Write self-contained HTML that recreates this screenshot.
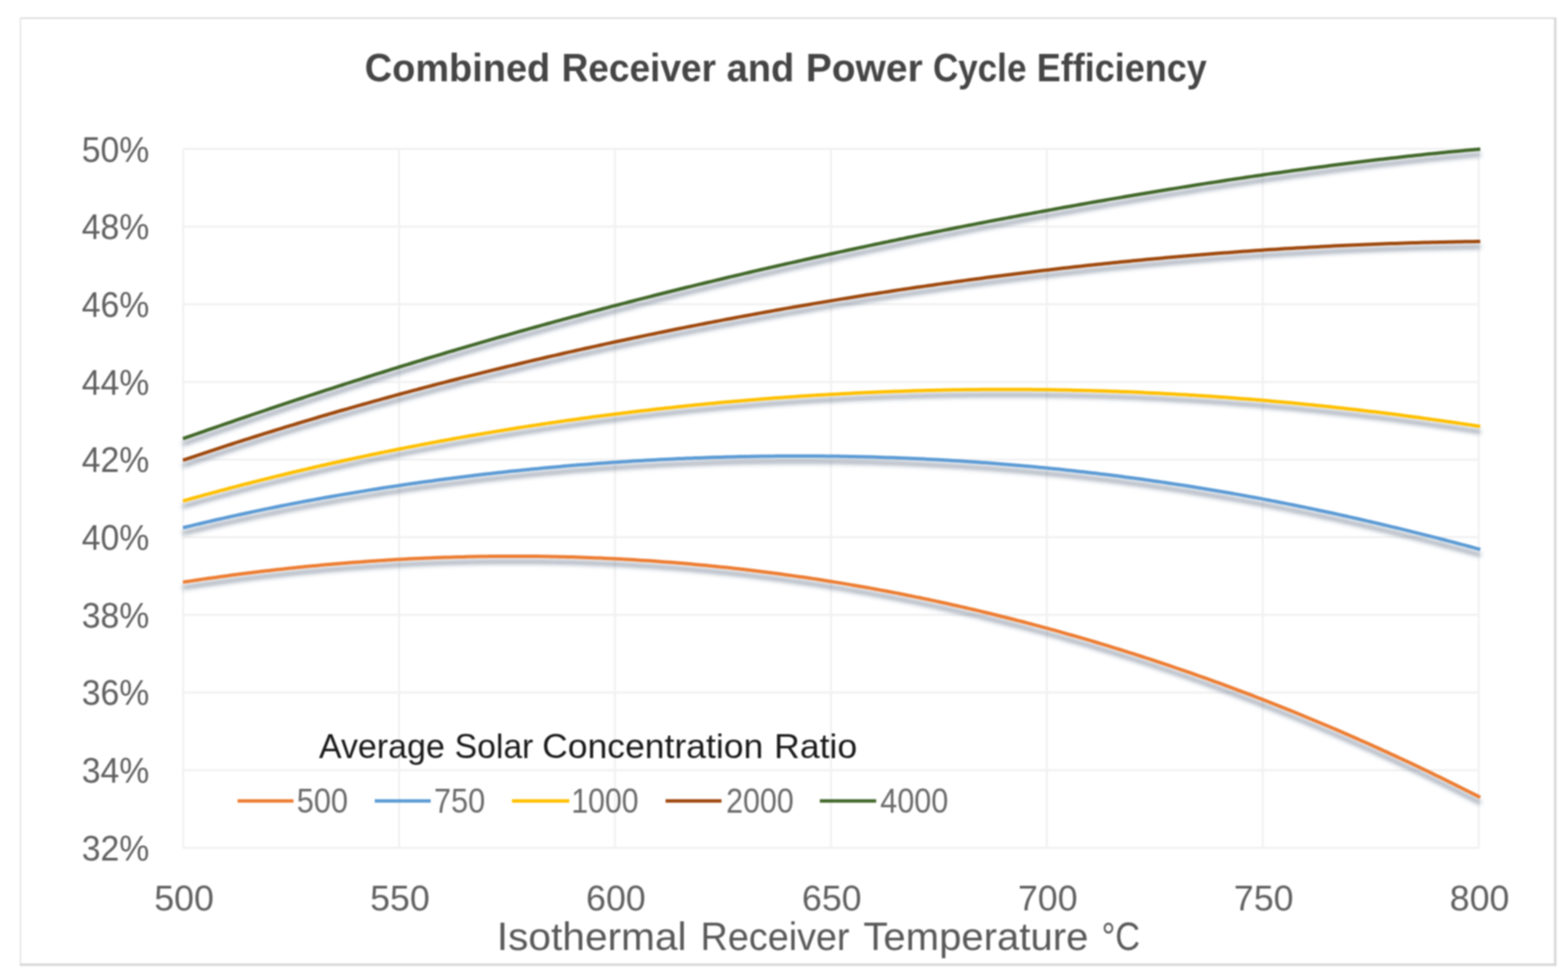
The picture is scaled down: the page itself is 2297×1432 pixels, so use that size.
<!DOCTYPE html><html><head><meta charset="utf-8"><title>Combined Receiver and Power Cycle Efficiency</title>
<style>html,body{margin:0;padding:0;background:#fff;}body{width:2297px;height:1432px;overflow:hidden;}svg{display:block;filter:blur(1px);}text{font-family:"Liberation Sans",Arial,sans-serif;}</style></head><body>
<svg width="2297" height="1432" viewBox="0 0 2297 1432">
<defs><filter id="sh" x="-5%" y="-20%" width="110%" height="160%"><feGaussianBlur in="SourceAlpha" stdDeviation="3.3"/><feOffset dx="0" dy="7.5" result="b"/><feFlood flood-color="rgb(40,60,90)" flood-opacity="0.52"/><feComposite in2="b" operator="in"/><feMerge><feMergeNode/><feMergeNode in="SourceGraphic"/></feMerge></filter></defs>
<rect x="0" y="0" width="2297" height="1432" fill="#fff"/>
<path d="M29 26.7H2280" stroke="#dadada" stroke-width="2.2"/>
<path d="M30 26V1414" stroke="#e6e6e6" stroke-width="2.2"/>
<path d="M2278.3 26V1414.5" stroke="#d6d6d6" stroke-width="3.5"/>
<path d="M29 1412.5H2280" stroke="#d6d6d6" stroke-width="3.5"/>
<path d="M268.3 218.10H2166.2 M268.3 331.80H2166.2 M268.3 445.50H2166.2 M268.3 559.20H2166.2 M268.3 672.90H2166.2 M268.3 786.60H2166.2 M268.3 900.30H2166.2 M268.3 1014.00H2166.2 M268.3 1127.70H2166.2 M268.3 1241.40H2166.2 M268.30 218.1V1241.4 M584.62 218.1V1241.4 M900.93 218.1V1241.4 M1217.25 218.1V1241.4 M1533.57 218.1V1241.4 M1849.88 218.1V1241.4 M2166.20 218.1V1241.4" stroke="#f1f1f1" stroke-width="3" fill="none"/>
<path d="M268.0 852.4 L274.0 851.5 L280.0 850.6 L286.0 849.7 L292.0 848.8 L298.0 847.9 L304.0 847.0 L310.0 846.2 L316.0 845.4 L322.0 844.5 L328.0 843.7 L334.0 842.9 L340.0 842.1 L346.0 841.3 L352.0 840.5 L358.0 839.8 L364.0 839.0 L370.0 838.3 L376.0 837.5 L382.0 836.8 L388.0 836.1 L394.0 835.4 L400.0 834.7 L406.0 834.0 L412.0 833.4 L418.0 832.7 L424.0 832.1 L430.0 831.4 L436.0 830.8 L442.0 830.2 L448.0 829.6 L454.0 829.0 L460.0 828.4 L466.0 827.9 L472.0 827.3 L478.0 826.8 L484.0 826.3 L490.0 825.7 L496.0 825.2 L502.0 824.7 L508.0 824.2 L514.0 823.8 L520.0 823.3 L526.0 822.9 L532.0 822.4 L538.0 822.0 L544.0 821.6 L550.0 821.2 L556.0 820.8 L562.0 820.4 L568.0 820.0 L574.0 819.7 L580.0 819.3 L586.0 819.0 L592.0 818.7 L598.0 818.3 L604.0 818.0 L610.0 817.8 L616.0 817.5 L622.0 817.2 L628.0 817.0 L634.0 816.7 L640.0 816.5 L646.0 816.3 L652.0 816.1 L658.0 815.9 L664.0 815.7 L670.0 815.5 L676.0 815.4 L682.0 815.2 L688.0 815.1 L694.0 815.0 L700.0 814.8 L706.0 814.7 L712.0 814.7 L718.0 814.6 L724.0 814.5 L730.0 814.5 L736.0 814.4 L742.0 814.4 L748.0 814.4 L754.0 814.4 L760.0 814.4 L766.0 814.4 L772.0 814.5 L778.0 814.5 L784.0 814.6 L790.0 814.6 L796.0 814.7 L802.0 814.8 L808.0 814.9 L814.0 815.0 L820.0 815.2 L826.0 815.3 L832.0 815.5 L838.0 815.6 L844.0 815.8 L850.0 816.0 L856.0 816.2 L862.0 816.4 L868.0 816.7 L874.0 816.9 L880.0 817.1 L886.0 817.4 L892.0 817.7 L898.0 818.0 L904.0 818.3 L910.0 818.6 L916.0 818.9 L922.0 819.3 L928.0 819.6 L934.0 820.0 L940.0 820.4 L946.0 820.7 L952.0 821.1 L958.0 821.6 L964.0 822.0 L970.0 822.4 L976.0 822.9 L982.0 823.3 L988.0 823.8 L994.0 824.3 L1000.0 824.8 L1006.0 825.3 L1012.0 825.8 L1018.0 826.4 L1024.0 826.9 L1030.0 827.5 L1036.0 828.1 L1042.0 828.7 L1048.0 829.3 L1054.0 829.9 L1060.0 830.5 L1066.0 831.1 L1072.0 831.8 L1078.0 832.4 L1084.0 833.1 L1090.0 833.8 L1096.0 834.5 L1102.0 835.2 L1108.0 836.0 L1114.0 836.7 L1120.0 837.4 L1126.0 838.2 L1132.0 839.0 L1138.0 839.8 L1144.0 840.6 L1150.0 841.4 L1156.0 842.2 L1162.0 843.1 L1168.0 843.9 L1174.0 844.8 L1180.0 845.6 L1186.0 846.5 L1192.0 847.4 L1198.0 848.3 L1204.0 849.3 L1210.0 850.2 L1216.0 851.2 L1222.0 852.1 L1228.0 853.1 L1234.0 854.1 L1240.0 855.1 L1246.0 856.1 L1252.0 857.2 L1258.0 858.2 L1264.0 859.2 L1270.0 860.3 L1276.0 861.4 L1282.0 862.5 L1288.0 863.6 L1294.0 864.7 L1300.0 865.8 L1306.0 867.0 L1312.0 868.1 L1318.0 869.3 L1324.0 870.5 L1330.0 871.7 L1336.0 872.9 L1342.0 874.1 L1348.0 875.3 L1354.0 876.6 L1360.0 877.8 L1366.0 879.1 L1372.0 880.4 L1378.0 881.7 L1384.0 883.0 L1390.0 884.3 L1396.0 885.7 L1402.0 887.0 L1408.0 888.4 L1414.0 889.7 L1420.0 891.1 L1426.0 892.5 L1432.0 893.9 L1438.0 895.4 L1444.0 896.8 L1450.0 898.3 L1456.0 899.7 L1462.0 901.2 L1468.0 902.7 L1474.0 904.2 L1480.0 905.7 L1486.0 907.2 L1492.0 908.8 L1498.0 910.3 L1504.0 911.9 L1510.0 913.5 L1516.0 915.1 L1522.0 916.7 L1528.0 918.3 L1534.0 919.9 L1540.0 921.6 L1546.0 923.2 L1552.0 924.9 L1558.0 926.6 L1564.0 928.3 L1570.0 930.0 L1576.0 931.7 L1582.0 933.4 L1588.0 935.2 L1594.0 936.9 L1600.0 938.7 L1606.0 940.5 L1612.0 942.3 L1618.0 944.1 L1624.0 945.9 L1630.0 947.8 L1636.0 949.6 L1642.0 951.5 L1648.0 953.4 L1654.0 955.3 L1660.0 957.2 L1666.0 959.1 L1672.0 961.0 L1678.0 963.0 L1684.0 964.9 L1690.0 966.9 L1696.0 968.9 L1702.0 970.9 L1708.0 972.9 L1714.0 974.9 L1720.0 977.0 L1726.0 979.0 L1732.0 981.1 L1738.0 983.1 L1744.0 985.2 L1750.0 987.3 L1756.0 989.5 L1762.0 991.6 L1768.0 993.7 L1774.0 995.9 L1780.0 998.1 L1786.0 1000.2 L1792.0 1002.4 L1798.0 1004.6 L1804.0 1006.9 L1810.0 1009.1 L1816.0 1011.4 L1822.0 1013.6 L1828.0 1015.9 L1834.0 1018.2 L1840.0 1020.5 L1846.0 1022.8 L1852.0 1025.1 L1858.0 1027.5 L1864.0 1029.8 L1870.0 1032.2 L1876.0 1034.6 L1882.0 1037.0 L1888.0 1039.4 L1894.0 1041.8 L1900.0 1044.3 L1906.0 1046.7 L1912.0 1049.2 L1918.0 1051.7 L1924.0 1054.2 L1930.0 1056.7 L1936.0 1059.2 L1942.0 1061.7 L1948.0 1064.3 L1954.0 1066.8 L1960.0 1069.4 L1966.0 1072.0 L1972.0 1074.6 L1978.0 1077.2 L1984.0 1079.9 L1990.0 1082.5 L1996.0 1085.2 L2002.0 1087.8 L2008.0 1090.5 L2014.0 1093.2 L2020.0 1095.9 L2026.0 1098.7 L2032.0 1101.4 L2038.0 1104.2 L2044.0 1106.9 L2050.0 1109.7 L2056.0 1112.5 L2062.0 1115.3 L2068.0 1118.1 L2074.0 1121.0 L2080.0 1123.8 L2086.0 1126.7 L2092.0 1129.6 L2098.0 1132.5 L2104.0 1135.4 L2110.0 1138.3 L2116.0 1141.3 L2122.0 1144.2 L2128.0 1147.2 L2134.0 1150.2 L2140.0 1153.2 L2146.0 1156.2 L2152.0 1159.2 L2158.0 1162.2 L2164.0 1165.3 L2168.5 1167.6" stroke="#ED7D31" stroke-width="5" fill="none" stroke-linejoin="round" filter="url(#sh)"/>
<path d="M268.0 772.8 L274.0 771.3 L280.0 769.9 L286.0 768.4 L292.0 767.0 L298.0 765.5 L304.0 764.1 L310.0 762.7 L316.0 761.3 L322.0 760.0 L328.0 758.6 L334.0 757.3 L340.0 755.9 L346.0 754.6 L352.0 753.3 L358.0 752.0 L364.0 750.7 L370.0 749.4 L376.0 748.1 L382.0 746.9 L388.0 745.6 L394.0 744.4 L400.0 743.2 L406.0 742.0 L412.0 740.8 L418.0 739.6 L424.0 738.4 L430.0 737.2 L436.0 736.1 L442.0 734.9 L448.0 733.8 L454.0 732.7 L460.0 731.6 L466.0 730.5 L472.0 729.4 L478.0 728.3 L484.0 727.2 L490.0 726.2 L496.0 725.1 L502.0 724.1 L508.0 723.1 L514.0 722.1 L520.0 721.1 L526.0 720.1 L532.0 719.1 L538.0 718.1 L544.0 717.1 L550.0 716.2 L556.0 715.2 L562.0 714.3 L568.0 713.4 L574.0 712.5 L580.0 711.6 L586.0 710.7 L592.0 709.8 L598.0 708.9 L604.0 708.0 L610.0 707.2 L616.0 706.3 L622.0 705.5 L628.0 704.7 L634.0 703.9 L640.0 703.1 L646.0 702.3 L652.0 701.5 L658.0 700.7 L664.0 699.9 L670.0 699.2 L676.0 698.4 L682.0 697.7 L688.0 696.9 L694.0 696.2 L700.0 695.5 L706.0 694.8 L712.0 694.1 L718.0 693.4 L724.0 692.7 L730.0 692.1 L736.0 691.4 L742.0 690.8 L748.0 690.1 L754.0 689.5 L760.0 688.9 L766.0 688.3 L772.0 687.7 L778.0 687.1 L784.0 686.5 L790.0 685.9 L796.0 685.3 L802.0 684.8 L808.0 684.2 L814.0 683.7 L820.0 683.2 L826.0 682.6 L832.0 682.1 L838.0 681.6 L844.0 681.1 L850.0 680.6 L856.0 680.2 L862.0 679.7 L868.0 679.2 L874.0 678.8 L880.0 678.3 L886.0 677.9 L892.0 677.5 L898.0 677.1 L904.0 676.7 L910.0 676.3 L916.0 675.9 L922.0 675.5 L928.0 675.1 L934.0 674.8 L940.0 674.4 L946.0 674.1 L952.0 673.7 L958.0 673.4 L964.0 673.1 L970.0 672.8 L976.0 672.5 L982.0 672.2 L988.0 671.9 L994.0 671.6 L1000.0 671.4 L1006.0 671.1 L1012.0 670.9 L1018.0 670.6 L1024.0 670.4 L1030.0 670.2 L1036.0 670.0 L1042.0 669.8 L1048.0 669.6 L1054.0 669.4 L1060.0 669.2 L1066.0 669.1 L1072.0 668.9 L1078.0 668.8 L1084.0 668.6 L1090.0 668.5 L1096.0 668.4 L1102.0 668.3 L1108.0 668.2 L1114.0 668.1 L1120.0 668.0 L1126.0 667.9 L1132.0 667.9 L1138.0 667.8 L1144.0 667.8 L1150.0 667.7 L1156.0 667.7 L1162.0 667.7 L1168.0 667.7 L1174.0 667.7 L1180.0 667.7 L1186.0 667.7 L1192.0 667.7 L1198.0 667.8 L1204.0 667.8 L1210.0 667.9 L1216.0 667.9 L1222.0 668.0 L1228.0 668.1 L1234.0 668.2 L1240.0 668.3 L1246.0 668.4 L1252.0 668.5 L1258.0 668.7 L1264.0 668.8 L1270.0 669.0 L1276.0 669.1 L1282.0 669.3 L1288.0 669.5 L1294.0 669.7 L1300.0 669.9 L1306.0 670.1 L1312.0 670.3 L1318.0 670.5 L1324.0 670.8 L1330.0 671.0 L1336.0 671.3 L1342.0 671.5 L1348.0 671.8 L1354.0 672.1 L1360.0 672.4 L1366.0 672.7 L1372.0 673.0 L1378.0 673.3 L1384.0 673.7 L1390.0 674.0 L1396.0 674.4 L1402.0 674.8 L1408.0 675.1 L1414.0 675.5 L1420.0 675.9 L1426.0 676.3 L1432.0 676.7 L1438.0 677.2 L1444.0 677.6 L1450.0 678.0 L1456.0 678.5 L1462.0 679.0 L1468.0 679.4 L1474.0 679.9 L1480.0 680.4 L1486.0 680.9 L1492.0 681.4 L1498.0 682.0 L1504.0 682.5 L1510.0 683.0 L1516.0 683.6 L1522.0 684.2 L1528.0 684.7 L1534.0 685.3 L1540.0 685.9 L1546.0 686.5 L1552.0 687.1 L1558.0 687.8 L1564.0 688.4 L1570.0 689.0 L1576.0 689.7 L1582.0 690.4 L1588.0 691.1 L1594.0 691.7 L1600.0 692.4 L1606.0 693.1 L1612.0 693.9 L1618.0 694.6 L1624.0 695.3 L1630.0 696.1 L1636.0 696.8 L1642.0 697.6 L1648.0 698.4 L1654.0 699.2 L1660.0 700.0 L1666.0 700.8 L1672.0 701.6 L1678.0 702.5 L1684.0 703.3 L1690.0 704.2 L1696.0 705.0 L1702.0 705.9 L1708.0 706.8 L1714.0 707.7 L1720.0 708.6 L1726.0 709.5 L1732.0 710.4 L1738.0 711.3 L1744.0 712.3 L1750.0 713.3 L1756.0 714.2 L1762.0 715.2 L1768.0 716.2 L1774.0 717.2 L1780.0 718.2 L1786.0 719.2 L1792.0 720.2 L1798.0 721.3 L1804.0 722.3 L1810.0 723.4 L1816.0 724.4 L1822.0 725.5 L1828.0 726.6 L1834.0 727.7 L1840.0 728.8 L1846.0 729.9 L1852.0 731.1 L1858.0 732.2 L1864.0 733.4 L1870.0 734.5 L1876.0 735.7 L1882.0 736.9 L1888.0 738.1 L1894.0 739.3 L1900.0 740.5 L1906.0 741.7 L1912.0 742.9 L1918.0 744.2 L1924.0 745.4 L1930.0 746.7 L1936.0 748.0 L1942.0 749.2 L1948.0 750.5 L1954.0 751.8 L1960.0 753.1 L1966.0 754.5 L1972.0 755.8 L1978.0 757.1 L1984.0 758.5 L1990.0 759.8 L1996.0 761.2 L2002.0 762.6 L2008.0 764.0 L2014.0 765.4 L2020.0 766.8 L2026.0 768.2 L2032.0 769.6 L2038.0 771.1 L2044.0 772.5 L2050.0 773.9 L2056.0 775.4 L2062.0 776.9 L2068.0 778.4 L2074.0 779.9 L2080.0 781.4 L2086.0 782.9 L2092.0 784.4 L2098.0 785.9 L2104.0 787.4 L2110.0 789.0 L2116.0 790.5 L2122.0 792.1 L2128.0 793.7 L2134.0 795.2 L2140.0 796.8 L2146.0 798.4 L2152.0 800.0 L2158.0 801.6 L2164.0 803.3 L2168.5 804.5" stroke="#5B9BD5" stroke-width="5" fill="none" stroke-linejoin="round" filter="url(#sh)"/>
<path d="M268.0 733.6 L274.0 731.9 L280.0 730.2 L286.0 728.5 L292.0 726.9 L298.0 725.2 L304.0 723.6 L310.0 721.9 L316.0 720.3 L322.0 718.7 L328.0 717.1 L334.0 715.5 L340.0 713.9 L346.0 712.3 L352.0 710.8 L358.0 709.2 L364.0 707.7 L370.0 706.1 L376.0 704.6 L382.0 703.1 L388.0 701.6 L394.0 700.1 L400.0 698.6 L406.0 697.1 L412.0 695.7 L418.0 694.2 L424.0 692.8 L430.0 691.3 L436.0 689.9 L442.0 688.5 L448.0 687.1 L454.0 685.7 L460.0 684.3 L466.0 682.9 L472.0 681.5 L478.0 680.2 L484.0 678.8 L490.0 677.5 L496.0 676.2 L502.0 674.8 L508.0 673.5 L514.0 672.2 L520.0 670.9 L526.0 669.6 L532.0 668.4 L538.0 667.1 L544.0 665.8 L550.0 664.6 L556.0 663.3 L562.0 662.1 L568.0 660.9 L574.0 659.7 L580.0 658.5 L586.0 657.3 L592.0 656.1 L598.0 654.9 L604.0 653.7 L610.0 652.6 L616.0 651.4 L622.0 650.3 L628.0 649.1 L634.0 648.0 L640.0 646.9 L646.0 645.8 L652.0 644.7 L658.0 643.6 L664.0 642.5 L670.0 641.4 L676.0 640.4 L682.0 639.3 L688.0 638.3 L694.0 637.2 L700.0 636.2 L706.0 635.2 L712.0 634.1 L718.0 633.1 L724.0 632.1 L730.0 631.1 L736.0 630.2 L742.0 629.2 L748.0 628.2 L754.0 627.3 L760.0 626.3 L766.0 625.4 L772.0 624.4 L778.0 623.5 L784.0 622.6 L790.0 621.7 L796.0 620.8 L802.0 619.9 L808.0 619.0 L814.0 618.1 L820.0 617.3 L826.0 616.4 L832.0 615.5 L838.0 614.7 L844.0 613.9 L850.0 613.0 L856.0 612.2 L862.0 611.4 L868.0 610.6 L874.0 609.8 L880.0 609.0 L886.0 608.2 L892.0 607.5 L898.0 606.7 L904.0 606.0 L910.0 605.2 L916.0 604.5 L922.0 603.7 L928.0 603.0 L934.0 602.3 L940.0 601.6 L946.0 600.9 L952.0 600.2 L958.0 599.5 L964.0 598.8 L970.0 598.2 L976.0 597.5 L982.0 596.9 L988.0 596.2 L994.0 595.6 L1000.0 594.9 L1006.0 594.3 L1012.0 593.7 L1018.0 593.1 L1024.0 592.5 L1030.0 591.9 L1036.0 591.3 L1042.0 590.8 L1048.0 590.2 L1054.0 589.6 L1060.0 589.1 L1066.0 588.5 L1072.0 588.0 L1078.0 587.5 L1084.0 587.0 L1090.0 586.5 L1096.0 585.9 L1102.0 585.5 L1108.0 585.0 L1114.0 584.5 L1120.0 584.0 L1126.0 583.6 L1132.0 583.1 L1138.0 582.6 L1144.0 582.2 L1150.0 581.8 L1156.0 581.3 L1162.0 580.9 L1168.0 580.5 L1174.0 580.1 L1180.0 579.7 L1186.0 579.3 L1192.0 579.0 L1198.0 578.6 L1204.0 578.2 L1210.0 577.9 L1216.0 577.5 L1222.0 577.2 L1228.0 576.9 L1234.0 576.5 L1240.0 576.2 L1246.0 575.9 L1252.0 575.6 L1258.0 575.3 L1264.0 575.1 L1270.0 574.8 L1276.0 574.5 L1282.0 574.3 L1288.0 574.0 L1294.0 573.8 L1300.0 573.5 L1306.0 573.3 L1312.0 573.1 L1318.0 572.9 L1324.0 572.7 L1330.0 572.5 L1336.0 572.3 L1342.0 572.1 L1348.0 571.9 L1354.0 571.8 L1360.0 571.6 L1366.0 571.5 L1372.0 571.3 L1378.0 571.2 L1384.0 571.1 L1390.0 571.0 L1396.0 570.8 L1402.0 570.7 L1408.0 570.7 L1414.0 570.6 L1420.0 570.5 L1426.0 570.4 L1432.0 570.4 L1438.0 570.3 L1444.0 570.3 L1450.0 570.2 L1456.0 570.2 L1462.0 570.2 L1468.0 570.2 L1474.0 570.2 L1480.0 570.2 L1486.0 570.2 L1492.0 570.2 L1498.0 570.2 L1504.0 570.3 L1510.0 570.3 L1516.0 570.4 L1522.0 570.4 L1528.0 570.5 L1534.0 570.6 L1540.0 570.7 L1546.0 570.8 L1552.0 570.9 L1558.0 571.0 L1564.0 571.1 L1570.0 571.2 L1576.0 571.4 L1582.0 571.5 L1588.0 571.7 L1594.0 571.8 L1600.0 572.0 L1606.0 572.2 L1612.0 572.3 L1618.0 572.5 L1624.0 572.7 L1630.0 572.9 L1636.0 573.1 L1642.0 573.4 L1648.0 573.6 L1654.0 573.8 L1660.0 574.1 L1666.0 574.3 L1672.0 574.6 L1678.0 574.9 L1684.0 575.2 L1690.0 575.5 L1696.0 575.7 L1702.0 576.1 L1708.0 576.4 L1714.0 576.7 L1720.0 577.0 L1726.0 577.4 L1732.0 577.7 L1738.0 578.1 L1744.0 578.4 L1750.0 578.8 L1756.0 579.2 L1762.0 579.5 L1768.0 579.9 L1774.0 580.3 L1780.0 580.8 L1786.0 581.2 L1792.0 581.6 L1798.0 582.0 L1804.0 582.5 L1810.0 582.9 L1816.0 583.4 L1822.0 583.9 L1828.0 584.3 L1834.0 584.8 L1840.0 585.3 L1846.0 585.8 L1852.0 586.3 L1858.0 586.8 L1864.0 587.4 L1870.0 587.9 L1876.0 588.4 L1882.0 589.0 L1888.0 589.5 L1894.0 590.1 L1900.0 590.7 L1906.0 591.3 L1912.0 591.9 L1918.0 592.4 L1924.0 593.1 L1930.0 593.7 L1936.0 594.3 L1942.0 594.9 L1948.0 595.6 L1954.0 596.2 L1960.0 596.9 L1966.0 597.5 L1972.0 598.2 L1978.0 598.9 L1984.0 599.5 L1990.0 600.2 L1996.0 600.9 L2002.0 601.7 L2008.0 602.4 L2014.0 603.1 L2020.0 603.8 L2026.0 604.6 L2032.0 605.3 L2038.0 606.1 L2044.0 606.8 L2050.0 607.6 L2056.0 608.4 L2062.0 609.2 L2068.0 610.0 L2074.0 610.8 L2080.0 611.6 L2086.0 612.4 L2092.0 613.2 L2098.0 614.1 L2104.0 614.9 L2110.0 615.7 L2116.0 616.6 L2122.0 617.5 L2128.0 618.3 L2134.0 619.2 L2140.0 620.1 L2146.0 621.0 L2152.0 621.9 L2158.0 622.8 L2164.0 623.7 L2168.5 624.4" stroke="#FFC000" stroke-width="5" fill="none" stroke-linejoin="round" filter="url(#sh)"/>
<path d="M268.0 673.9 L274.0 671.9 L280.0 669.8 L286.0 667.8 L292.0 665.8 L298.0 663.8 L304.0 661.8 L310.0 659.8 L316.0 657.8 L322.0 655.8 L328.0 653.9 L334.0 651.9 L340.0 650.0 L346.0 648.0 L352.0 646.1 L358.0 644.2 L364.0 642.3 L370.0 640.4 L376.0 638.5 L382.0 636.6 L388.0 634.7 L394.0 632.8 L400.0 631.0 L406.0 629.1 L412.0 627.3 L418.0 625.4 L424.0 623.6 L430.0 621.8 L436.0 620.0 L442.0 618.2 L448.0 616.4 L454.0 614.6 L460.0 612.8 L466.0 611.0 L472.0 609.2 L478.0 607.5 L484.0 605.7 L490.0 604.0 L496.0 602.2 L502.0 600.5 L508.0 598.8 L514.0 597.1 L520.0 595.4 L526.0 593.7 L532.0 592.0 L538.0 590.3 L544.0 588.6 L550.0 586.9 L556.0 585.3 L562.0 583.6 L568.0 582.0 L574.0 580.3 L580.0 578.7 L586.0 577.0 L592.0 575.4 L598.0 573.8 L604.0 572.2 L610.0 570.6 L616.0 569.0 L622.0 567.4 L628.0 565.8 L634.0 564.3 L640.0 562.7 L646.0 561.1 L652.0 559.6 L658.0 558.0 L664.0 556.5 L670.0 555.0 L676.0 553.4 L682.0 551.9 L688.0 550.4 L694.0 548.9 L700.0 547.4 L706.0 545.9 L712.0 544.4 L718.0 542.9 L724.0 541.4 L730.0 540.0 L736.0 538.5 L742.0 537.0 L748.0 535.6 L754.0 534.2 L760.0 532.7 L766.0 531.3 L772.0 529.9 L778.0 528.4 L784.0 527.0 L790.0 525.6 L796.0 524.2 L802.0 522.8 L808.0 521.4 L814.0 520.1 L820.0 518.7 L826.0 517.3 L832.0 515.9 L838.0 514.6 L844.0 513.2 L850.0 511.9 L856.0 510.5 L862.0 509.2 L868.0 507.9 L874.0 506.6 L880.0 505.2 L886.0 503.9 L892.0 502.6 L898.0 501.3 L904.0 500.0 L910.0 498.7 L916.0 497.5 L922.0 496.2 L928.0 494.9 L934.0 493.7 L940.0 492.4 L946.0 491.1 L952.0 489.9 L958.0 488.7 L964.0 487.4 L970.0 486.2 L976.0 485.0 L982.0 483.7 L988.0 482.5 L994.0 481.3 L1000.0 480.1 L1006.0 478.9 L1012.0 477.7 L1018.0 476.6 L1024.0 475.4 L1030.0 474.2 L1036.0 473.0 L1042.0 471.9 L1048.0 470.7 L1054.0 469.6 L1060.0 468.4 L1066.0 467.3 L1072.0 466.2 L1078.0 465.0 L1084.0 463.9 L1090.0 462.8 L1096.0 461.7 L1102.0 460.6 L1108.0 459.5 L1114.0 458.4 L1120.0 457.3 L1126.0 456.2 L1132.0 455.1 L1138.0 454.0 L1144.0 453.0 L1150.0 451.9 L1156.0 450.9 L1162.0 449.8 L1168.0 448.8 L1174.0 447.7 L1180.0 446.7 L1186.0 445.7 L1192.0 444.6 L1198.0 443.6 L1204.0 442.6 L1210.0 441.6 L1216.0 440.6 L1222.0 439.6 L1228.0 438.6 L1234.0 437.6 L1240.0 436.7 L1246.0 435.7 L1252.0 434.7 L1258.0 433.7 L1264.0 432.8 L1270.0 431.8 L1276.0 430.9 L1282.0 430.0 L1288.0 429.0 L1294.0 428.1 L1300.0 427.2 L1306.0 426.2 L1312.0 425.3 L1318.0 424.4 L1324.0 423.5 L1330.0 422.6 L1336.0 421.7 L1342.0 420.8 L1348.0 420.0 L1354.0 419.1 L1360.0 418.2 L1366.0 417.4 L1372.0 416.5 L1378.0 415.6 L1384.0 414.8 L1390.0 414.0 L1396.0 413.1 L1402.0 412.3 L1408.0 411.5 L1414.0 410.6 L1420.0 409.8 L1426.0 409.0 L1432.0 408.2 L1438.0 407.4 L1444.0 406.6 L1450.0 405.8 L1456.0 405.1 L1462.0 404.3 L1468.0 403.5 L1474.0 402.7 L1480.0 402.0 L1486.0 401.2 L1492.0 400.5 L1498.0 399.7 L1504.0 399.0 L1510.0 398.3 L1516.0 397.5 L1522.0 396.8 L1528.0 396.1 L1534.0 395.4 L1540.0 394.7 L1546.0 394.0 L1552.0 393.3 L1558.0 392.6 L1564.0 391.9 L1570.0 391.3 L1576.0 390.6 L1582.0 389.9 L1588.0 389.3 L1594.0 388.6 L1600.0 388.0 L1606.0 387.3 L1612.0 386.7 L1618.0 386.1 L1624.0 385.4 L1630.0 384.8 L1636.0 384.2 L1642.0 383.6 L1648.0 383.0 L1654.0 382.4 L1660.0 381.8 L1666.0 381.2 L1672.0 380.7 L1678.0 380.1 L1684.0 379.5 L1690.0 379.0 L1696.0 378.4 L1702.0 377.9 L1708.0 377.3 L1714.0 376.8 L1720.0 376.2 L1726.0 375.7 L1732.0 375.2 L1738.0 374.7 L1744.0 374.2 L1750.0 373.7 L1756.0 373.2 L1762.0 372.7 L1768.0 372.2 L1774.0 371.7 L1780.0 371.3 L1786.0 370.8 L1792.0 370.3 L1798.0 369.9 L1804.0 369.4 L1810.0 369.0 L1816.0 368.5 L1822.0 368.1 L1828.0 367.7 L1834.0 367.3 L1840.0 366.8 L1846.0 366.4 L1852.0 366.0 L1858.0 365.6 L1864.0 365.3 L1870.0 364.9 L1876.0 364.5 L1882.0 364.1 L1888.0 363.8 L1894.0 363.4 L1900.0 363.0 L1906.0 362.7 L1912.0 362.4 L1918.0 362.0 L1924.0 361.7 L1930.0 361.4 L1936.0 361.0 L1942.0 360.7 L1948.0 360.4 L1954.0 360.1 L1960.0 359.8 L1966.0 359.6 L1972.0 359.3 L1978.0 359.0 L1984.0 358.7 L1990.0 358.5 L1996.0 358.2 L2002.0 358.0 L2008.0 357.7 L2014.0 357.5 L2020.0 357.3 L2026.0 357.0 L2032.0 356.8 L2038.0 356.6 L2044.0 356.4 L2050.0 356.2 L2056.0 356.0 L2062.0 355.8 L2068.0 355.6 L2074.0 355.5 L2080.0 355.3 L2086.0 355.1 L2092.0 355.0 L2098.0 354.8 L2104.0 354.7 L2110.0 354.5 L2116.0 354.4 L2122.0 354.3 L2128.0 354.2 L2134.0 354.0 L2140.0 353.9 L2146.0 353.8 L2152.0 353.7 L2158.0 353.7 L2164.0 353.6 L2168.5 353.5" stroke="#9E480E" stroke-width="5" fill="none" stroke-linejoin="round" filter="url(#sh)"/>
<path d="M268.0 642.3 L274.0 640.2 L280.0 638.1 L286.0 636.0 L292.0 633.9 L298.0 631.8 L304.0 629.7 L310.0 627.6 L316.0 625.6 L322.0 623.5 L328.0 621.4 L334.0 619.4 L340.0 617.3 L346.0 615.2 L352.0 613.2 L358.0 611.1 L364.0 609.1 L370.0 607.0 L376.0 605.0 L382.0 603.0 L388.0 601.0 L394.0 598.9 L400.0 596.9 L406.0 594.9 L412.0 592.9 L418.0 590.9 L424.0 588.9 L430.0 586.9 L436.0 584.9 L442.0 583.0 L448.0 581.0 L454.0 579.0 L460.0 577.1 L466.0 575.1 L472.0 573.1 L478.0 571.2 L484.0 569.3 L490.0 567.3 L496.0 565.4 L502.0 563.5 L508.0 561.5 L514.0 559.6 L520.0 557.7 L526.0 555.8 L532.0 553.9 L538.0 552.0 L544.0 550.1 L550.0 548.2 L556.0 546.3 L562.0 544.5 L568.0 542.6 L574.0 540.7 L580.0 538.9 L586.0 537.0 L592.0 535.2 L598.0 533.3 L604.0 531.5 L610.0 529.7 L616.0 527.9 L622.0 526.0 L628.0 524.2 L634.0 522.4 L640.0 520.6 L646.0 518.8 L652.0 517.0 L658.0 515.2 L664.0 513.5 L670.0 511.7 L676.0 509.9 L682.0 508.1 L688.0 506.4 L694.0 504.6 L700.0 502.9 L706.0 501.1 L712.0 499.4 L718.0 497.7 L724.0 495.9 L730.0 494.2 L736.0 492.5 L742.0 490.8 L748.0 489.1 L754.0 487.4 L760.0 485.7 L766.0 484.0 L772.0 482.3 L778.0 480.7 L784.0 479.0 L790.0 477.3 L796.0 475.7 L802.0 474.0 L808.0 472.4 L814.0 470.7 L820.0 469.1 L826.0 467.4 L832.0 465.8 L838.0 464.2 L844.0 462.6 L850.0 461.0 L856.0 459.3 L862.0 457.7 L868.0 456.1 L874.0 454.6 L880.0 453.0 L886.0 451.4 L892.0 449.8 L898.0 448.2 L904.0 446.7 L910.0 445.1 L916.0 443.6 L922.0 442.0 L928.0 440.5 L934.0 438.9 L940.0 437.4 L946.0 435.9 L952.0 434.3 L958.0 432.8 L964.0 431.3 L970.0 429.8 L976.0 428.3 L982.0 426.8 L988.0 425.3 L994.0 423.8 L1000.0 422.3 L1006.0 420.8 L1012.0 419.4 L1018.0 417.9 L1024.0 416.4 L1030.0 415.0 L1036.0 413.5 L1042.0 412.1 L1048.0 410.6 L1054.0 409.2 L1060.0 407.7 L1066.0 406.3 L1072.0 404.9 L1078.0 403.5 L1084.0 402.1 L1090.0 400.6 L1096.0 399.2 L1102.0 397.8 L1108.0 396.4 L1114.0 395.0 L1120.0 393.6 L1126.0 392.3 L1132.0 390.9 L1138.0 389.5 L1144.0 388.1 L1150.0 386.8 L1156.0 385.4 L1162.0 384.1 L1168.0 382.7 L1174.0 381.4 L1180.0 380.0 L1186.0 378.7 L1192.0 377.3 L1198.0 376.0 L1204.0 374.7 L1210.0 373.4 L1216.0 372.0 L1222.0 370.7 L1228.0 369.4 L1234.0 368.1 L1240.0 366.8 L1246.0 365.5 L1252.0 364.2 L1258.0 362.9 L1264.0 361.7 L1270.0 360.4 L1276.0 359.1 L1282.0 357.8 L1288.0 356.6 L1294.0 355.3 L1300.0 354.1 L1306.0 352.8 L1312.0 351.6 L1318.0 350.3 L1324.0 349.1 L1330.0 347.8 L1336.0 346.6 L1342.0 345.4 L1348.0 344.1 L1354.0 342.9 L1360.0 341.7 L1366.0 340.5 L1372.0 339.3 L1378.0 338.1 L1384.0 336.9 L1390.0 335.7 L1396.0 334.5 L1402.0 333.3 L1408.0 332.1 L1414.0 330.9 L1420.0 329.8 L1426.0 328.6 L1432.0 327.4 L1438.0 326.3 L1444.0 325.1 L1450.0 323.9 L1456.0 322.8 L1462.0 321.6 L1468.0 320.5 L1474.0 319.4 L1480.0 318.2 L1486.0 317.1 L1492.0 316.0 L1498.0 314.8 L1504.0 313.7 L1510.0 312.6 L1516.0 311.5 L1522.0 310.4 L1528.0 309.3 L1534.0 308.2 L1540.0 307.1 L1546.0 306.0 L1552.0 304.9 L1558.0 303.8 L1564.0 302.7 L1570.0 301.7 L1576.0 300.6 L1582.0 299.5 L1588.0 298.5 L1594.0 297.4 L1600.0 296.3 L1606.0 295.3 L1612.0 294.2 L1618.0 293.2 L1624.0 292.1 L1630.0 291.1 L1636.0 290.1 L1642.0 289.1 L1648.0 288.0 L1654.0 287.0 L1660.0 286.0 L1666.0 285.0 L1672.0 284.0 L1678.0 283.0 L1684.0 282.0 L1690.0 281.0 L1696.0 280.0 L1702.0 279.0 L1708.0 278.0 L1714.0 277.0 L1720.0 276.1 L1726.0 275.1 L1732.0 274.1 L1738.0 273.2 L1744.0 272.2 L1750.0 271.3 L1756.0 270.3 L1762.0 269.4 L1768.0 268.4 L1774.0 267.5 L1780.0 266.6 L1786.0 265.7 L1792.0 264.7 L1798.0 263.8 L1804.0 262.9 L1810.0 262.0 L1816.0 261.1 L1822.0 260.2 L1828.0 259.3 L1834.0 258.4 L1840.0 257.5 L1846.0 256.7 L1852.0 255.8 L1858.0 254.9 L1864.0 254.1 L1870.0 253.2 L1876.0 252.4 L1882.0 251.5 L1888.0 250.7 L1894.0 249.8 L1900.0 249.0 L1906.0 248.2 L1912.0 247.4 L1918.0 246.6 L1924.0 245.8 L1930.0 245.0 L1936.0 244.2 L1942.0 243.4 L1948.0 242.6 L1954.0 241.8 L1960.0 241.0 L1966.0 240.3 L1972.0 239.5 L1978.0 238.7 L1984.0 238.0 L1990.0 237.3 L1996.0 236.5 L2002.0 235.8 L2008.0 235.1 L2014.0 234.3 L2020.0 233.6 L2026.0 232.9 L2032.0 232.2 L2038.0 231.5 L2044.0 230.9 L2050.0 230.2 L2056.0 229.5 L2062.0 228.8 L2068.0 228.2 L2074.0 227.5 L2080.0 226.9 L2086.0 226.3 L2092.0 225.6 L2098.0 225.0 L2104.0 224.4 L2110.0 223.8 L2116.0 223.2 L2122.0 222.6 L2128.0 222.0 L2134.0 221.5 L2140.0 220.9 L2146.0 220.3 L2152.0 219.8 L2158.0 219.2 L2164.0 218.7 L2168.5 218.3" stroke="#43682B" stroke-width="5" fill="none" stroke-linejoin="round" filter="url(#sh)"/>
<text x="534.3" y="119" font-size="57" font-weight="bold" fill="#454545" textLength="271.7" lengthAdjust="spacingAndGlyphs">Combined</text>
<text x="822.7" y="119" font-size="57" font-weight="bold" fill="#454545" textLength="226.2" lengthAdjust="spacingAndGlyphs">Receiver</text>
<text x="1064.5" y="119" font-size="57" font-weight="bold" fill="#454545" textLength="99.0" lengthAdjust="spacingAndGlyphs">and</text>
<text x="1180.5" y="119" font-size="57" font-weight="bold" fill="#454545" textLength="171.1" lengthAdjust="spacingAndGlyphs">Power</text>
<text x="1366.7" y="119" font-size="57" font-weight="bold" fill="#454545" textLength="137.0" lengthAdjust="spacingAndGlyphs">Cycle</text>
<text x="1518.8" y="119" font-size="57" font-weight="bold" fill="#454545" textLength="249.0" lengthAdjust="spacingAndGlyphs">Efficiency</text>
<text x="218.8" y="236.5" font-size="51" fill="#606060" text-anchor="end" textLength="99" lengthAdjust="spacingAndGlyphs">50%</text>
<text x="218.8" y="350.2" font-size="51" fill="#606060" text-anchor="end" textLength="99" lengthAdjust="spacingAndGlyphs">48%</text>
<text x="218.8" y="463.9" font-size="51" fill="#606060" text-anchor="end" textLength="99" lengthAdjust="spacingAndGlyphs">46%</text>
<text x="218.8" y="577.6" font-size="51" fill="#606060" text-anchor="end" textLength="99" lengthAdjust="spacingAndGlyphs">44%</text>
<text x="218.8" y="691.3" font-size="51" fill="#606060" text-anchor="end" textLength="99" lengthAdjust="spacingAndGlyphs">42%</text>
<text x="218.8" y="805.0" font-size="51" fill="#606060" text-anchor="end" textLength="99" lengthAdjust="spacingAndGlyphs">40%</text>
<text x="218.8" y="918.7" font-size="51" fill="#606060" text-anchor="end" textLength="99" lengthAdjust="spacingAndGlyphs">38%</text>
<text x="218.8" y="1032.4" font-size="51" fill="#606060" text-anchor="end" textLength="99" lengthAdjust="spacingAndGlyphs">36%</text>
<text x="218.8" y="1146.1" font-size="51" fill="#606060" text-anchor="end" textLength="99" lengthAdjust="spacingAndGlyphs">34%</text>
<text x="218.8" y="1259.8" font-size="51" fill="#606060" text-anchor="end" textLength="99" lengthAdjust="spacingAndGlyphs">32%</text>
<text x="269.6" y="1332.8" font-size="52" fill="#606060" text-anchor="middle" textLength="87.3" lengthAdjust="spacingAndGlyphs">500</text>
<text x="585.9" y="1332.8" font-size="52" fill="#606060" text-anchor="middle" textLength="87.3" lengthAdjust="spacingAndGlyphs">550</text>
<text x="902.2" y="1332.8" font-size="52" fill="#606060" text-anchor="middle" textLength="87.3" lengthAdjust="spacingAndGlyphs">600</text>
<text x="1218.5" y="1332.8" font-size="52" fill="#606060" text-anchor="middle" textLength="87.3" lengthAdjust="spacingAndGlyphs">650</text>
<text x="1534.9" y="1332.8" font-size="52" fill="#606060" text-anchor="middle" textLength="87.3" lengthAdjust="spacingAndGlyphs">700</text>
<text x="1851.2" y="1332.8" font-size="52" fill="#606060" text-anchor="middle" textLength="87.3" lengthAdjust="spacingAndGlyphs">750</text>
<text x="2167.5" y="1332.8" font-size="52" fill="#606060" text-anchor="middle" textLength="87.3" lengthAdjust="spacingAndGlyphs">800</text>
<text x="727.8" y="1390.5" font-size="57" fill="#595959" textLength="278.0" lengthAdjust="spacingAndGlyphs">Isothermal</text>
<text x="1026.3" y="1390.5" font-size="57" fill="#595959" textLength="218.2" lengthAdjust="spacingAndGlyphs">Receiver</text>
<text x="1264.7" y="1390.5" font-size="57" fill="#595959" textLength="329.7" lengthAdjust="spacingAndGlyphs">Temperature</text>
<text x="1613.7" y="1390.5" font-size="57" fill="#595959" textLength="56.5" lengthAdjust="spacingAndGlyphs">°C</text>
<text x="467.2" y="1110" font-size="50" fill="#1a1a1a" textLength="184.4" lengthAdjust="spacingAndGlyphs">Average</text>
<text x="666.0" y="1110" font-size="50" fill="#1a1a1a" textLength="115.3" lengthAdjust="spacingAndGlyphs">Solar</text>
<text x="794.2" y="1110" font-size="50" fill="#1a1a1a" textLength="323.9" lengthAdjust="spacingAndGlyphs">Concentration</text>
<text x="1134.0" y="1110" font-size="50" fill="#1a1a1a" textLength="121.7" lengthAdjust="spacingAndGlyphs">Ratio</text>
<path d="M348.0 1172.7H430.0" stroke="#ED7D31" stroke-width="5"/>
<text x="434.7" y="1190.3" font-size="49.5" fill="#6a6a6a" textLength="75.0" lengthAdjust="spacingAndGlyphs">500</text>
<path d="M549.0 1172.7H631.0" stroke="#5B9BD5" stroke-width="5"/>
<text x="635.8" y="1190.3" font-size="49.5" fill="#6a6a6a" textLength="75.0" lengthAdjust="spacingAndGlyphs">750</text>
<path d="M750.0 1172.7H834.0" stroke="#FFC000" stroke-width="5"/>
<text x="837.0" y="1190.3" font-size="49.5" fill="#6a6a6a" textLength="98.5" lengthAdjust="spacingAndGlyphs">1000</text>
<path d="M975.0 1172.7H1057.0" stroke="#9E480E" stroke-width="5"/>
<text x="1063.8" y="1190.3" font-size="49.5" fill="#6a6a6a" textLength="99.0" lengthAdjust="spacingAndGlyphs">2000</text>
<path d="M1201.0 1172.7H1283.5" stroke="#43682B" stroke-width="5"/>
<text x="1289.5" y="1190.3" font-size="49.5" fill="#6a6a6a" textLength="99.6" lengthAdjust="spacingAndGlyphs">4000</text>
</svg></body></html>
